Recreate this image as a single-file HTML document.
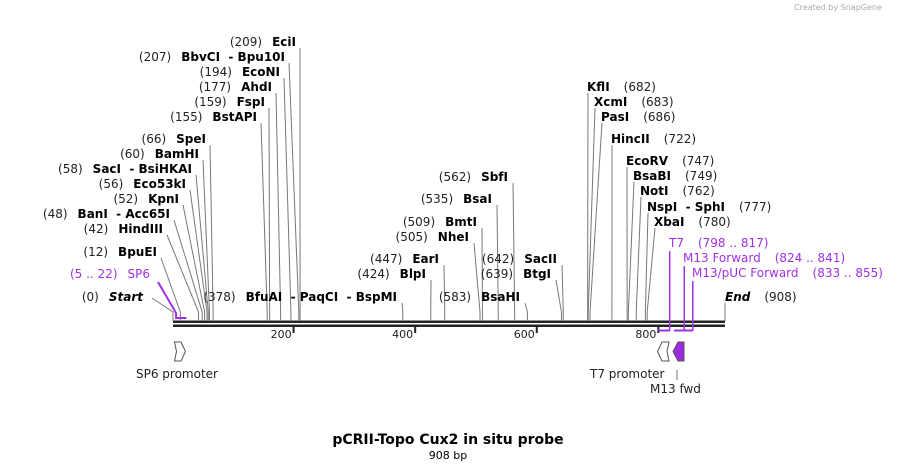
<!DOCTYPE html>
<html><head><meta charset="utf-8"><style>
html,body{margin:0;padding:0;background:#fff;}
svg{display:block;font-family:"DejaVu Sans","Liberation Sans",sans-serif;}
text{white-space:pre;}
.n{font-size:12px;font-weight:bold;fill:#000}
.p{font-size:12px;fill:#222;font-weight:normal}
.pr{font-size:12px;fill:#a030e8}
</style></head><body>
<svg id="map" width="898" height="471" viewBox="0 0 898 471">
<text x="838" y="10" font-size="8" fill="#aaa" text-anchor="middle">Created by SnapGene</text>
<g id="lines"></g>
<g id="labels"></g>
<text x="448" y="444" text-anchor="middle" font-size="14" font-weight="bold">pCRII-Topo Cux2 in situ probe</text>
<text x="448" y="459" text-anchor="middle" font-size="11">908 bp</text>
</svg>
<script>
const seqLength = 908;
const tickValues = [200, 400, 600, 800];
const leftNames = ["EciI","BbvCI  - Bpu10I","EcoNI","AhdI","FspI","BstAPI","SpeI","BamHI","SacI  - BsiHKAI","Eco53kI","KpnI","BanI  - Acc65I","HindIII","BpuEI"];
const leftBps = [209,207,194,177,159,155,66,60,58,56,52,48,42,12];
const midNames = ["BfuAI  - PaqCI  - BspMI","BlpI","EarI","NheI","BmtI","BsaI","SbfI","BsaHI","BtgI","SacII"];
const midBps = [378,424,447,505,509,535,562,583,639,642];
const rightNames = ["KflI","XcmI","PasI","HincII","EcoRV","BsaBI","NotI","NspI  - SphI","XbaI"];
const rightBps = [682,683,686,722,747,749,762,777,780];
const primerNames = ["SP6","T7","M13 Forward","M13/pUC Forward"];
const primerStarts = [5,798,824,833];
const primerEnds = [22,817,841,855];

// layout (label positions)
const leftEndX = [296,285,280,272,265,257,206,199,192,186,179,170,163,157];
const leftY = [46,61,76,91,106,121,143,158,173,188,203,218,233,256];
const midEndX = [397,426,439,469,477,492,508,520,551,557];
const midY = [301,278,263,241,226,203,181,301,278,263];
const rightX = [587,594,601,611,626,633,640,647,654];
const rightY = [91,106,121,143,165,180,195,211,226];
const NS = "http://www.w3.org/2000/svg";
const X = bp => 173 + bp * (552 / seqLength);
const L = document.getElementById('lines'), T = document.getElementById('labels');
function mk(tag, attrs, parent){const e=document.createElementNS(NS,tag);for(const k in attrs)e.setAttribute(k,attrs[k]);parent.appendChild(e);return e;}
function conn(x1,y1,x2,col){
  const p=mk('polyline',{points:`${x1},${y1} ${x2},${Math.max(y1,312)} ${x2},321`,fill:'none',stroke:col||'#777','stroke-width':1},L);
  
  
}
const b1=mk('rect',{x:X(0),y:320.5,width:X(seqLength)-X(0),height:2.5,fill:'#222'},L);


const b2=mk('rect',{x:X(0),y:324.5,width:X(seqLength)-X(0),height:2.5,fill:'#222'},L);


tickValues.forEach(v=>{
  const t=mk('rect',{x:X(v)-2,y:327,width:2,height:6,fill:'#222'},L);
  
  
  const tx=mk('text',{x:X(v)-3,y:338,'text-anchor':'end','font-size':11,fill:'#222'},T);
  tx.textContent=v;
  
  
});
function leftLabel(name,bp,ex,y,italic){
  const t=mk('text',{x:ex,y:y,'text-anchor':'end'},T);
  
  
  const a=mk('tspan',{class:'p'},t);a.textContent='('+bp+')';
  const b=mk('tspan',{class:'n',dx:10},t);b.textContent=name;
  if(italic)b.setAttribute('font-style','italic');
}
leftNames.forEach((n,i)=>{leftLabel(n,leftBps[i],leftEndX[i],leftY[i]);conn(leftEndX[i]+4,leftY[i]+2,X(leftBps[i]));});
midNames.forEach((n,i)=>{leftLabel(n,midBps[i],midEndX[i],midY[i]);conn(midEndX[i]+5,midY[i]+2,X(midBps[i]));});
leftLabel('Start',0,143,301,true);conn(152,298,X(0));
rightNames.forEach((n,i)=>{
  const t=mk('text',{x:rightX[i],y:rightY[i]},T);
  
  
  const b=mk('tspan',{class:'n'},t);b.textContent=n;
  const a=mk('tspan',{class:'p',dx:14},t);a.textContent='('+rightBps[i]+')';
  conn(rightX[i]+1,rightY[i]+2,X(rightBps[i]));
});
{const t=mk('text',{x:725,y:301},T);
 
 
 const b=mk('tspan',{class:'n','font-style':'italic'},t);b.textContent='End';
 const a=mk('tspan',{class:'p',dx:14},t);a.textContent='('+seqLength+')';
 const l=mk('line',{x1:X(seqLength),y1:303,x2:X(seqLength),y2:321,stroke:'#777'},L);
 
 }
primerNames.forEach((n,i)=>{
  const xs=X(primerStarts[i]), xe=X(primerEnds[i]);
  if(i===0){
    const t=mk('text',{x:150,y:278,'text-anchor':'end',class:'pr'},T);
    
    
    const a=mk('tspan',{},t);a.textContent='('+primerStarts[i]+' .. '+primerEnds[i]+')';
    const b=mk('tspan',{dx:10},t);b.textContent=n;
    const pl=mk('polyline',{points:`158,282 ${xs},313 ${xs},318 ${xe},318`,fill:'none',stroke:'#a030e8','stroke-width':2},L);
    
    
  } else {
    const lx=[0,669,683,692][i], ly=[0,247,262,277][i];
    const t=mk('text',{x:lx,y:ly,class:'pr'},T);
    
    
    const b=mk('tspan',{},t);b.textContent=n;
    const a=mk('tspan',{dx:14},t);a.textContent='('+primerStarts[i]+' .. '+primerEnds[i]+')';
    const vl=mk('line',{x1:xe,y1:ly+4,x2:xe,y2:331,stroke:'#a030e8','stroke-width':1.5},L);
    
    
    const bar=mk('line',{x1:xs,y1:330.5,x2:xe,y2:330.5,stroke:'#a030e8','stroke-width':2},L);
    
    
  }
});
function feat(pts,fill,name){const p=mk('polygon',{points:pts,fill:fill,stroke:'#555','stroke-width':1},L);
 
 }
feat('174.5,342 181,342 185.5,351.5 181,361 174.5,361 176.5,351.5','#fff','sp6-promoter-arrow');
feat('669,342 662,342 657.5,351.5 662,361 669,361 667,351.5','#fff','t7-promoter-arrow');
feat('684,342 678,342 673,351.5 678,361 684,361','#9b2be0','m13-fwd-arrow');
function flab(txt,x,y,name){const t=mk('text',{x:x,y:y,'font-size':12,fill:'#222'},T);t.textContent=txt;
 
 }
flab('SP6 promoter',136,378,'sp6-promoter-label');
flab('T7 promoter',590,378,'t7-promoter-label');
flab('M13 fwd',650,393,'m13-fwd-label');
{const l=mk('line',{x1:677,y1:370,x2:677,y2:380,stroke:'#777'},L);
 
 }
</script>
</body></html>
